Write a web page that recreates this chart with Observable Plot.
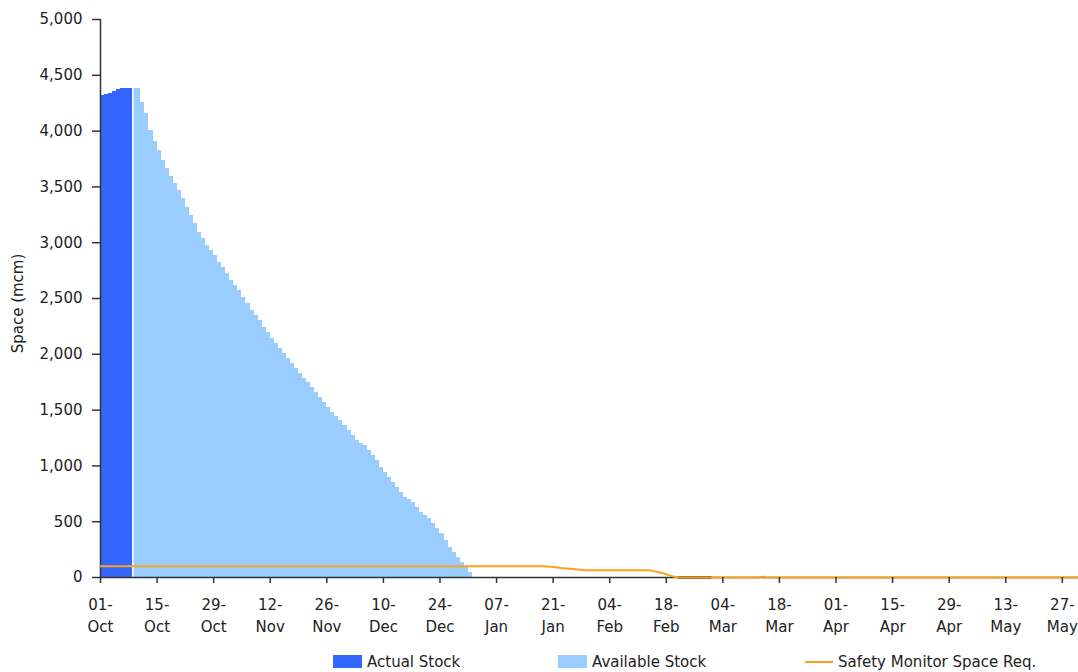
<!DOCTYPE html>
<html>
<head>
<meta charset="utf-8">
<script src="https://cdn.jsdelivr.net/npm/d3@7"></script>
<script src="https://cdn.jsdelivr.net/npm/@observablehq/plot@0.6"></script>
<style>
  html, body { margin: 0; padding: 0; background: #fff; }
  body { width: 1078px; height: 672px; overflow: hidden; font-family: "DejaVu Sans", sans-serif; color: #222; }
  #legend { position: relative; width: 1078px; height: 32px; font-size: 15px; }
  .item { position: absolute; top: 13px; height: 17px; display: flex; align-items: center; white-space: nowrap; }
  .sw { display: inline-block; width: 29px; height: 13px; margin-right: 5px; }
  .ln { display: inline-block; width: 28px; height: 2px; margin-right: 5px; }
</style>
</head>
<body>
<div id="chart"></div>
<div id="legend"></div>
<script>
// ---- data ----
const startDate = "2010-10-01";
const endDate = "2011-05-31";
const actualStock = [4319, 4328, 4340, 4358, 4370, 4384, 4384, 4384];
const availableStart = "2010-10-09";
const availableStock = [
  4380, 4380, 4259, 4155, 4005, 3907, 3826, 3737, 3662, 3596, 3530, 3468, 3393, 3318, 3244, 3175, 3094, 3035,
  2975, 2930, 2885, 2825, 2780, 2721, 2661, 2616, 2572, 2512, 2452, 2392, 2348, 2303, 2243, 2198, 2139, 2094,
  2049, 2004, 1960, 1915, 1870, 1825, 1780, 1750, 1705, 1660, 1616,
  1570, 1525, 1481, 1440, 1407, 1362, 1317, 1272, 1228, 1205, 1183, 1138, 1093, 1048, 983, 944, 899, 854,
  809, 764, 720, 698, 675, 630, 585, 555, 525, 480, 436, 391, 332, 272, 227, 182, 137, 92, 48
];
const safetyDates = ["2010-10-01", "2011-01-19", "2011-01-21", "2011-01-23", "2011-01-26", "2011-01-29",
  "2011-02-14", "2011-02-17", "2011-02-20", "2011-02-21", "2011-03-13", "2011-03-14", "2011-03-15", "2011-05-31"];
const safetyValues = [100, 100, 95, 85, 76, 66, 64, 40, 6, 0, 0, 8, 0, 0];
const zeroSegDates = ["2011-02-21", "2011-03-01"];
const xTickDates = ["2010-10-01", "2010-10-15", "2010-10-29", "2010-11-12", "2010-11-26", "2010-12-10",
  "2010-12-24", "2011-01-07", "2011-01-21", "2011-02-04", "2011-02-18", "2011-03-04", "2011-03-18",
  "2011-04-01", "2011-04-15", "2011-04-29", "2011-05-13", "2011-05-27"];
const yTicks = [0, 500, 1000, 1500, 2000, 2500, 3000, 3500, 4000, 4500, 5000];
const seriesNames = ["Actual Stock", "Available Stock", "Safety Monitor Space Req."];
const seriesColors = ["#3366ff", "#99ccff", "#ffa01c"];
const yLabel = "Space (mcm)";

// ---- build tables ----
const parse = d3.utcParse("%Y-%m-%d");
const t0 = parse(startDate), t1 = parse(endDate), ta = parse(availableStart);
const actualRows = actualStock.map((v, i) => ({start: d3.utcDay.offset(t0, i), end: d3.utcDay.offset(t0, i + 1), v}));
const availRows = availableStock.map((v, i) => ({start: d3.utcDay.offset(ta, i), end: d3.utcDay.offset(ta, i + 1), v}));
const safetyRows = safetyDates.map((d, i) => ({date: parse(d), v: safetyValues[i]}));
const zeroRows = zeroSegDates.map(d => ({date: parse(d), v: 0}));
const xTicks = xTickDates.map(parse);

const chart = Plot.plot({
  width: 1078,
  height: 640,
  marginLeft: 100,
  marginRight: 0,
  marginTop: 19,
  marginBottom: 63,
  style: {fontFamily: "DejaVu Sans, sans-serif", fontSize: "15px", color: "#222", background: "#fff"},
  x: {type: "utc", domain: [t0, t1]},
  y: {domain: [0, 5000]},
  marks: [
    Plot.rect(actualRows, {x1: "start", x2: "end", y1: 0, y2: "v", fill: seriesColors[0], shapeRendering: "crispEdges"}),
    Plot.rect(availRows, {x1: "start", x2: "end", y1: 0, y2: "v", fill: seriesColors[1], shapeRendering: "crispEdges"}),
    Plot.ruleX([availRows[0]], {x: "start", y1: 0, y2: "v", stroke: "#fff", strokeWidth: 1.6}),
    Plot.ruleX([t0], {stroke: "#333", strokeWidth: 1.5}),
    Plot.ruleY([0], {stroke: "#333", strokeWidth: 1.5}),
    Plot.line(zeroRows, {x: "date", y: "v", stroke: "#2a2418", strokeWidth: 2.5}),
    Plot.line(safetyRows, {x: "date", y: "v", stroke: seriesColors[2], strokeWidth: 2}),
    Plot.axisY({ticks: yTicks, tickSize: 8, tickPadding: 10, tickFormat: d3.format(","), label: null, stroke: "#333", strokeWidth: 1.5}),
    Plot.axisX({ticks: xTicks, tickSize: 6, tickFormat: () => "", label: null, stroke: "#333", strokeWidth: 1.5}),
    Plot.text(xTicks, {x: d => d, frameAnchor: "bottom", dy: 32, text: d3.utcFormat("%d-"), fill: "#222"}),
    Plot.text(xTicks, {x: d => d, frameAnchor: "bottom", dy: 54, text: d3.utcFormat("%b"), fill: "#222"}),
    Plot.text([yLabel], {frameAnchor: "left", textAnchor: "middle", dx: -82, dy: 5, rotate: -90, text: d => d, fill: "#222"})
  ]
});
document.getElementById("chart").appendChild(chart);

// ---- legend ----
const legend = document.getElementById("legend");
const legendLeft = [333, 558, 805];
seriesNames.forEach((name, i) => {
  const item = document.createElement("div");
  item.className = "item";
  item.style.left = legendLeft[i] + "px";
  const mark = document.createElement("span");
  mark.className = i === 2 ? "ln" : "sw";
  mark.style.background = seriesColors[i];
  item.appendChild(mark);
  item.appendChild(document.createTextNode(name));
  legend.appendChild(item);
});
</script>
</body>
</html>
